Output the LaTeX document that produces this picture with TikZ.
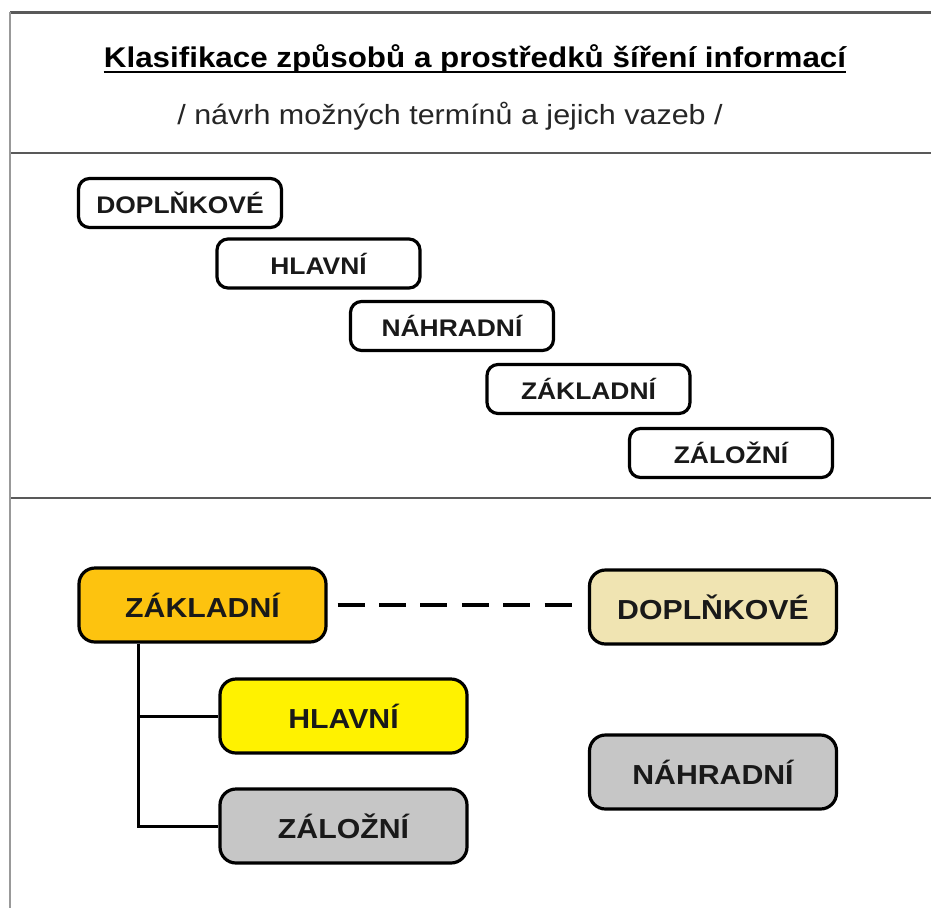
\documentclass[tikz,border=0pt]{standalone}
\usepackage{fontspec}
\setmainfont[FakeStretch=1.1]{Liberation Sans}
\begin{document}
\begin{tikzpicture}[x=1pt,y=-1pt,
  topbox/.style={draw=black, line width=3.2pt, rounded corners=11pt, fill=white,
    minimum width=203pt, minimum height=49pt, inner sep=0pt,
    font=\fontsize{24}{28}\selectfont\bfseries, text=black!90},
  botbox/.style={draw=black, line width=3.2pt, rounded corners=16pt,
    minimum width=247pt, minimum height=74pt, inner sep=0pt,
    font=\fontsize{27.5}{32}\selectfont\bfseries, text=black!90},
  frame/.style={draw=black!65, line width=2.2pt},
  link/.style={draw=black, line width=3pt}]
\useasboundingbox (0,0) rectangle (931,908);
\fill[white] (0,0) rectangle (931,908);
\definecolor{cOrange}{HTML}{FDC30F}
\definecolor{cBeige}{HTML}{F0E4B2}
\definecolor{cYellow}{HTML}{FFF200}
\definecolor{cGray}{HTML}{C6C6C6}
% frame
\draw[frame] (10,12.5) -- (931,12.5);
\draw[frame] (10,153) -- (931,153);
\draw[frame] (10,498) -- (931,498);
\draw[draw=black!40, line width=2.5pt] (10,11.5) -- (10,908);
% title
\node[anchor=base, inner sep=0pt, font=\fontsize{28.5}{32}\selectfont\bfseries] (title) at (475,67) {Klasifikace způsobů a prostředků šíření informací};
\draw[line width=2.2pt] ([yshift=-5pt]title.base west) -- ([yshift=-5pt]title.base east);
\node[anchor=base, inner sep=0pt, font=\fontsize{27.7}{32}\selectfont, text=black!85] (subtitle) at (450,124) {/ návrh možných termínů a jejich vazeb /};
% top boxes
\node[topbox] (t1) at (180,203) {DOPLŇKOVÉ};
\node[topbox] (t2) at (318.5,263.5) {HLAVNÍ};
\node[topbox] (t3) at (452,326) {NÁHRADNÍ};
\node[topbox] (t4) at (588.5,389) {ZÁKLADNÍ};
\node[topbox] (t5) at (731,453) {ZÁLOŽNÍ};
% bottom boxes
\node[botbox, fill=cOrange] (bz) at (202.5,605) {ZÁKLADNÍ};
\node[botbox, fill=cBeige] (bd) at (713,607) {DOPLŇKOVÉ};
\node[botbox, fill=cYellow] (bh) at (343.5,716) {HLAVNÍ};
\node[botbox, fill=cGray] (bzal) at (343.5,826) {ZÁLOŽNÍ};
\node[botbox, fill=cGray] (bn) at (713,772) {NÁHRADNÍ};
% connectors
\coordinate (trunk) at (138,642);
\draw[link] (trunk |- bz.south) |- (bh.west);
\draw[link] (trunk |- bz.south) |- (bzal.west);
\draw[black, line width=3.2pt, dash pattern=on 27pt off 14.4pt] ([xshift=10pt]bz.east) -- ([xshift=-15pt]bd.west |- bz.east);
\end{tikzpicture}
\end{document}
